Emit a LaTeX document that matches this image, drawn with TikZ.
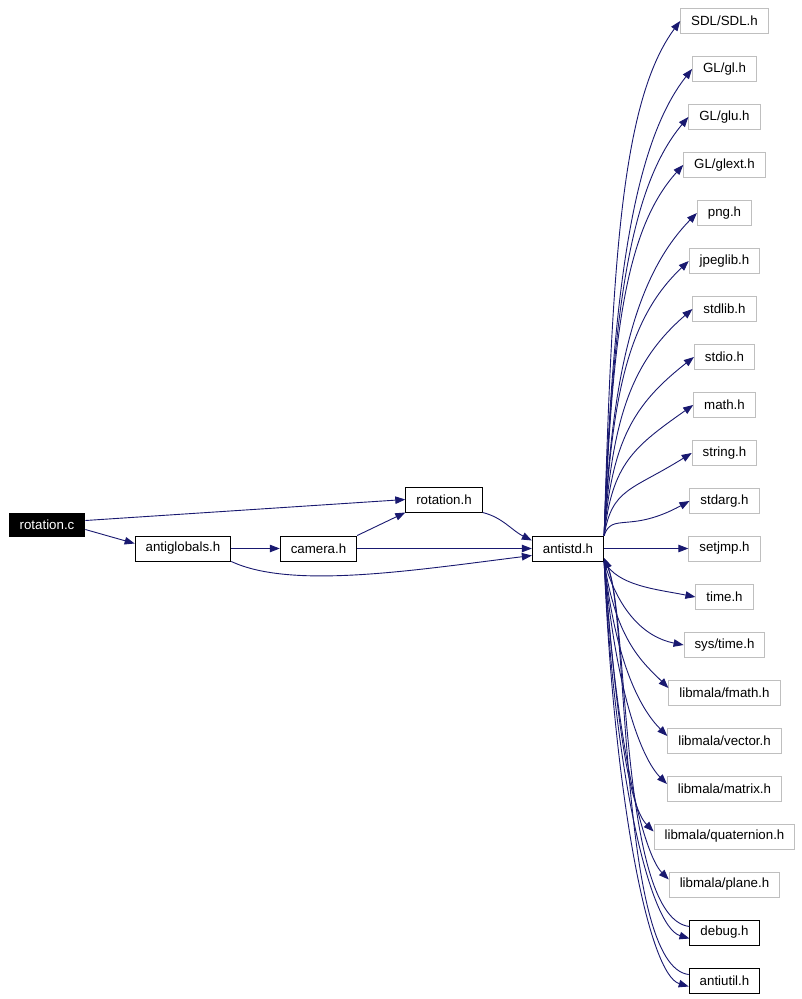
\documentclass[tikz,border=0pt]{standalone}
\usepackage{fontspec}
\setmainfont{Liberation Sans}
\usetikzlibrary{arrows.meta}
\definecolor{edgeblue}{HTML}{191970}
\definecolor{boxgray}{HTML}{BFBFBF}
\begin{document}
\begin{tikzpicture}
[
    x=1pt, y=-1pt,
    every node/.style={font=\fontsize{13.3}{15}\selectfont, inner xsep=10.5pt, inner ysep=0pt, minimum height=25pt, line width=1pt},
    file/.style={draw=black},
    sysfile/.style={draw=boxgray},
    mainfile/.style={draw=black, fill=black, text=white},
    dep/.style={draw=edgeblue, line width=0.9pt, -{Triangle[length=10pt, width=7.5pt]}},
]
\fill[white] (0,0) rectangle (802,999);
\useasboundingbox (0,0) rectangle (802,999);
\node[mainfile, minimum height=23pt] (rotc) at (47,524.5) {rotation.c};
\node[file] (antig) at (183,548.5) {antiglobals.h};
\node[file] (camera) at (318.5,548.5) {camera.h};
\node[file] (roth) at (444,499.5) {rotation.h};
\node[file] (antistd) at (568,548.5) {antistd.h};
\foreach \y/\n/\lab in {21/sdl/{SDL/SDL.h}, 69/gl/{GL/gl.h}, 117/glu/{GL/glu.h},
    165/glext/{GL/glext.h}, 213/png/{png.h}, 261/jpeglib/{jpeglib.h},
    309/stdlib/{stdlib.h}, 357/stdio/{stdio.h}, 405/math/{math.h},
    453/string/{string.h}, 501/stdarg/{stdarg.h}, 548.5/setjmp/{setjmp.h},
    597/time/{time.h}, 645/systime/{sys/time.h}, 693/fmath/{libmala/fmath.h},
    741/vector/{libmala/vector.h}, 789/matrix/{libmala/matrix.h},
    836.5/quaternion/{libmala/quaternion.h}, 884.5/plane/{libmala/plane.h}}
    \node[sysfile] (\n) at (724.5,\y) {\lab};
\node[file] (debug) at (724.5,932.5) {debug.h};
\node[file] (antiutil) at (724.5,980.5) {antiutil.h};

\draw[dep] ([yshift=4pt]rotc.east) -- (roth.west);
\draw[dep] ([yshift=-5pt]rotc.east) -- ([yshift=5pt]antig.west);
\draw[dep] (antig) -- (camera);
\draw[dep] (camera.north east) -- (roth.south west);
\draw[dep] (camera) -- (antistd);
\draw[dep] (roth.south east) .. controls +(20,5) and +(-20,-10) .. ([yshift=8pt]antistd.west);
\draw[dep] (antig.south east) .. controls +(60,28) and +(-120,15) .. ([yshift=-7pt]antistd.west);

\foreach \n/\y in {sdl/21, gl/69, glu/117, glext/165, png/213, jpeglib/261,
    stdlib/309, stdio/357, math/405, string/453, stdarg/501}
    \draw[dep] (antistd.north east) .. controls +(8,{-0.5*(548-\y)}) and +(-60,{0.1*(548-\y)+28}) .. (\n.west);
\draw[dep] (antistd) -- (setjmp);
\foreach \n/\y in {time/597, systime/645}
    \draw[dep] (antistd.south east) .. controls +(14,{0.5*(\y-548)}) and +(-40,-8) .. (\n.west);
\foreach \n/\y in {fmath/693, vector/741, matrix/789, quaternion/836, plane/884}
    \draw[dep] (antistd.south east) .. controls +(12,{0.55*(\y-548)}) and +(-25,-25) .. ([yshift=5pt]\n.west);
\foreach \n/\y in {debug/932, antiutil/980}
{
    \draw[dep] (antistd.south east) .. controls +(10,{0.55*(\y-548)}) and +(-40,-12) .. ([yshift=-6pt]\n.west);
    \draw[dep] ([yshift=6pt]\n.west) .. controls +(-70,-8) and +(25,60) .. (antistd.-15);
}
\end{tikzpicture}
\end{document}
